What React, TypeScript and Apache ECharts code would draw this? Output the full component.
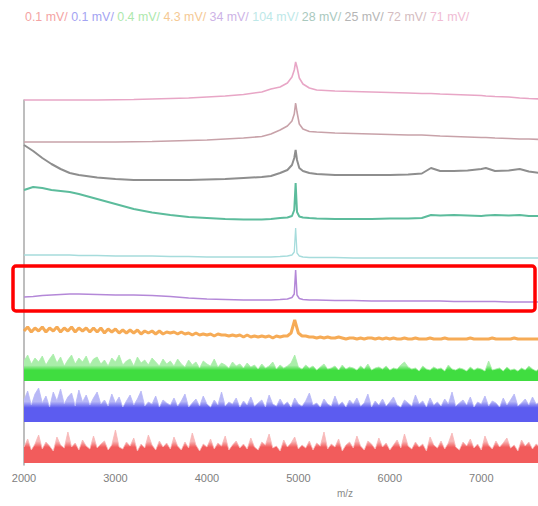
import React, { useEffect, useRef } from "react";
import * as echarts from "echarts";

// Legend labels (bottom trace first)
const LABELS = ["0.1 mV/", "0.1 mV/", "0.4 mV/", "4.3 mV/", "34 mV/", "104 mV/", "28 mV/", "25 mV/", "72 mV/", "71 mV/"];
const X_MIN = 2000;
const X_MAX = 7620;
const X_STEP = 1000;

// m/z sampling of the smooth traces
const MZ_SMOOTH = [2000, 2100, 2200, 2300, 2400, 2500, 2600, 2800, 3000, 3200, 3400, 3600, 3800, 4000, 4200, 4400, 4600, 4700, 4800, 4880, 4930, 4955, 4970, 4985, 5010, 5050, 5120, 5200, 5400, 5600, 5800, 6000, 6200, 6350, 6450, 6550, 6700, 6850, 7000, 7050, 7150, 7300, 7420, 7520, 7650];

const PINK_71 = [0, 0, 0, 0, 0, 0, 0, 0, 0.3, 0.5, 1, 1.5, 2, 3, 4, 5.5, 8, 11, 13, 17, 23, 30, 38, 33, 22, 16, 12, 10, 9, 8.5, 8, 7.5, 7, 6.5, 6.5, 6, 5.5, 5, 4.5, 4, 3.5, 3, 2, 1.5, 1];
const ROSY_72 = [0, 0, 0, 0, 0, 0, 0, 0, 0, 0.3, 0.5, 1, 1.5, 2, 3, 4, 5.5, 8, 12, 16, 21, 28, 39, 30, 18, 13, 10.5, 10, 9, 8.5, 8, 7.5, 7, 7, 6.5, 6, 5.5, 5, 4.5, 4.5, 4, 3.5, 3, 3, 2.5];
const GRAY_25 = [35, 29, 22, 16, 11, 7, 5, 2.5, 1, 0, 0, 0, 0, 0.5, 1, 2, 3, 4, 7, 10, 15, 22, 30, 20, 12, 9, 7, 6, 5, 5, 5, 5, 5.5, 6.5, 12, 9, 9, 9.5, 11, 12, 9, 9.5, 11, 8.5, 7];
const TEAL_28 = [30, 33, 32, 30, 29, 28, 26, 21, 16, 11, 7.5, 5, 3, 2, 1, 0.5, 0.5, 1, 2, 2.5, 4, 10, 37, 8, 3.5, 2.5, 2, 1.5, 1, 1, 1, 1.5, 1.5, 2, 5, 4.5, 5, 4.5, 4, 4.5, 5, 4.5, 5, 4, 4];
const CYAN_104 = [3, 3, 3, 3, 3, 3, 2.5, 2.5, 2, 2, 2, 1.5, 1.5, 1, 1, 1, 1, 1, 1.5, 2, 3, 6, 30, 5, 2, 1, 0.5, 0.5, 0.5, 0, 0, 0, 0, 0, 0, 0, 0, 0, 0, 0, 0, 0, 0, 0, 0];
const PURPLE_34 = [5, 5.5, 6.5, 7, 7.5, 8, 8, 7.5, 7, 7, 6.5, 5.5, 4, 3, 2.5, 2, 2, 2, 2.5, 3, 4.5, 8, 32, 7, 3.5, 2.5, 2, 2, 1.5, 1.5, 1, 1, 1, 1, 1, 1, 0.5, 0.5, 0.5, 0.5, 0.5, 0, 0, 0, 0];

// noisy traces: sampled every 40 m/z from 2000
const NOISE_START = 2000;
const NOISE_STEP = 40;
const ORANGE_43 = [
  11, 15, 10, 14, 11, 15, 10, 14, 11, 15, 10, 14, 11, 15, 10, 14, 11, 14, 10, 14,
  10, 14, 9, 13, 10, 13, 9, 12, 9, 12, 9, 12, 8, 11, 9, 11, 8, 11, 8, 10,
  9, 10, 8, 10, 8, 9, 7, 9, 7, 8, 7, 8, 6, 8, 7, 7, 6, 7, 6, 7,
  5, 7, 5, 6, 5, 6, 5, 6, 4, 6, 5, 6, 6, 9, 22, 9, 6, 6, 5, 5,
  4, 5, 4, 5, 4, 4, 5, 4, 3, 4, 4, 3, 4, 3, 4, 4, 3, 4, 3, 4,
  3, 4, 3, 3, 4, 3, 3, 4, 3, 3, 3, 4, 3, 3, 3, 4, 3, 3, 3, 3,
  3, 3, 4, 3, 3, 3, 3, 3, 4, 3, 3, 3, 3, 3, 4, 3, 3, 3, 3, 3, 3, 3,
];
const GREEN_04 = [
  20, 26, 17, 23, 19, 25, 16, 22, 27, 18, 24, 15, 21, 26, 17, 23, 19, 25, 16, 22,
  24, 17, 21, 15, 23, 19, 26, 16, 20, 22, 15, 24, 18, 21, 16, 23, 19, 15, 22, 17,
  20, 15, 22, 17, 14, 21, 16, 19, 13, 20, 17, 15, 22, 14, 18, 16, 13, 19, 15, 17,
  13, 18, 14, 16, 12, 17, 13, 15, 19, 12, 16, 13, 15, 18, 26, 14, 12, 16, 13, 15,
  11, 14, 17, 12, 13, 15, 11, 16, 12, 14, 13, 11, 15, 12, 17, 11, 13, 14, 12, 15,
  11, 13, 12, 16, 19, 14, 12, 13, 10, 15, 12, 11, 14, 12, 13, 10, 16, 12, 11, 13,
  12, 10, 14, 11, 13, 12, 10, 20, 11, 12, 13, 10, 14, 11, 12, 10, 13, 11, 15, 12, 10, 13,
];
const BLUE_01 = [
  22, 31, 17, 28, 34, 19, 26, 15, 30, 21, 33, 18, 25, 29, 16, 32, 20, 27, 17, 24,
  30, 18, 22, 16, 28, 19, 25, 15, 21, 27, 17, 23, 31, 16, 20, 18, 26, 15, 22, 19,
  17, 24, 16, 21, 28, 15, 19, 23, 16, 26, 18, 15, 22, 17, 30, 16, 20, 18, 24, 15,
  21, 17, 25, 16, 19, 22, 15, 27, 18, 16, 23, 17, 20, 15, 24, 18, 16, 21, 29, 17,
  19, 15, 23, 18, 16, 26, 17, 20, 15, 22, 18, 24, 16, 19, 28, 15, 21, 17, 23, 16,
  20, 25, 17, 15, 22, 19, 16, 27, 18, 21, 15, 24, 17, 20, 16, 23, 18, 30, 16, 19,
  22, 17, 25, 15, 20, 18, 26, 16, 21, 19, 15, 24, 17, 22, 28, 16, 19, 23, 17, 25, 18, 20,
];
const RED_01 = [
  16, 24, 13, 19, 28, 14, 21, 17, 12, 26, 18, 15, 31, 16, 20, 13, 23, 17, 14, 27,
  15, 19, 22, 13, 18, 33, 16, 14, 21, 17, 25, 12, 19, 15, 28, 18, 13, 22, 16, 20,
  14, 26, 17, 13, 21, 15, 30, 18, 12, 19, 16, 24, 14, 20, 17, 27, 13, 18, 22, 15,
  19, 14, 25, 16, 13, 21, 18, 29, 15, 17, 12, 23, 16, 20, 26, 14, 18, 15, 22, 13,
  20, 17, 31, 14, 19, 16, 24, 12, 18, 21, 15, 27, 17, 13, 22, 19, 14, 25, 16, 20,
  13, 18, 23, 15, 29, 17, 14, 21, 16, 19, 12, 26, 18, 15, 22, 14, 20, 30, 16, 13,
  21, 17, 24, 15, 19, 13, 27, 18, 14, 22, 16, 20, 25, 15, 18, 12, 23, 17, 21, 14, 19, 16,
];

// layout / style (not data)
const OFFSETS = [2, 43, 84, 123, 163, 207, 245, 285, 323, 365];
const COLORS = ["#f25c5c", "#5c5cf0", "#40dd40", "#f5a244", "#b488d8", "#a6dcdc", "#5cbc9c", "#8e8e8e", "#c8a2a9", "#e8a6c6"];
const LIGHT = ["#f8b8b8", "#b8b8f6", "#aaeeaa"];
const SOLID_STOP = [0.52, 0.58, 0.6];
const LEGEND_COLORS = ["#f4a3a3", "#a3a3f2", "#ade8ad", "#f5c994", "#cdb3e6", "#bde8e8", "#a9c9be", "#b5b5b5", "#d4bcc0", "#f0bcd4"];

export default function App() {
  const ref = useRef<HTMLDivElement>(null);
  useEffect(() => {
    if (!ref.current) return;
    const chart = echarts.init(ref.current, undefined, { renderer: "svg" });

    const smoothSets = [
      { i: 4, vals: PURPLE_34, w: 1.5 },
      { i: 5, vals: CYAN_104, w: 1.3 },
      { i: 6, vals: TEAL_28, w: 2 },
      { i: 7, vals: GRAY_25, w: 2 },
      { i: 8, vals: ROSY_72, w: 1.6 },
      { i: 9, vals: PINK_71, w: 1.6 },
    ];
    const noiseSets = [
      { i: 0, vals: RED_01 },
      { i: 1, vals: BLUE_01 },
      { i: 2, vals: GREEN_04 },
    ];

    const series: any[] = [];
    noiseSets.forEach((s) => {
      series.push({
        type: "line",
        name: LABELS[s.i],
        showSymbol: false,
        clip: false,
        data: s.vals.map((v, k) => [NOISE_START + k * NOISE_STEP, OFFSETS[s.i] + v]),
        lineStyle: { color: LIGHT[s.i], width: 0.8 },
        itemStyle: { color: COLORS[s.i] },
        areaStyle: {
          origin: OFFSETS[s.i],
          opacity: 1,
          color: new echarts.graphic.LinearGradient(0, 0, 0, 1, [
            { offset: 0, color: LIGHT[s.i] },
            { offset: SOLID_STOP[s.i] - 0.18, color: LIGHT[s.i] },
            { offset: SOLID_STOP[s.i], color: COLORS[s.i] },
            { offset: 1, color: COLORS[s.i] },
          ]),
        },
      });
    });
    series.push({
      type: "line",
      name: LABELS[3],
      showSymbol: false,
      clip: false,
      data: ORANGE_43.map((v, k) => [NOISE_START + k * NOISE_STEP, OFFSETS[3] + v]),
      lineStyle: { color: COLORS[3], width: 3, opacity: 0.9 },
      itemStyle: { color: COLORS[3] },
    });
    smoothSets.forEach((s) => {
      series.push({
        type: "line",
        name: LABELS[s.i],
        showSymbol: false,
        clip: false,
        data: s.vals.map((v, k) => [MZ_SMOOTH[k], OFFSETS[s.i] + v]),
        lineStyle: { color: COLORS[s.i], width: s.w },
        itemStyle: { color: COLORS[s.i] },
      });
    });

    const rich: any = {};
    LEGEND_COLORS.forEach((c, k) => {
      rich["c" + k] = { color: c, fontSize: 12.4, fontFamily: "Liberation Sans, Arial, sans-serif" };
    });
    const titleText = LABELS.map((l, k) => `{c${k}|${l}}`).join(" ");

    chart.setOption({
      animation: false,
      backgroundColor: "#ffffff",
      textStyle: { fontFamily: "Liberation Sans, Arial, sans-serif" },
      title: {
        left: 20,
        top: 6,
        text: titleText,
        textStyle: { fontSize: 12.4, fontWeight: "normal", rich },
      },
      grid: { left: 24, right: 0, top: 100, bottom: 41 },
      xAxis: {
        type: "value",
        min: X_MIN,
        max: X_MAX,
        interval: X_STEP,
        name: "m/z",
        nameLocation: "middle",
        nameGap: 23,
        nameTextStyle: { color: "#8a8a8a", fontSize: 10, padding: [0, 0, 0, 128] },
        axisLine: { show: false },
        axisTick: { show: false },
        splitLine: { show: false },
        axisLabel: {
          color: "#808080",
          fontSize: 11,
          margin: 7,
          showMinLabel: true,
          showMaxLabel: false,
          formatter: (v: number) => String(v),
        },
      },
      yAxis: {
        type: "value",
        min: 0,
        max: 365,
        axisLine: { show: true, lineStyle: { color: "#a8a8a8", width: 1.5 } },
        axisTick: { show: false },
        axisLabel: { show: false },
        splitLine: { show: false },
      },
      series,
      graphic: [
        {
          type: "rect",
          z: 100,
          shape: { x: 13, y: 266, width: 522, height: 45, r: 3 },
          style: { fill: "none", stroke: "#ff0000", lineWidth: 3.5 },
        },
      ],
    });
    return () => chart.dispose();
  }, []);
  return <div ref={ref} style={{ position: "absolute", left: 0, top: 0, width: 538, height: 506 }} />;
}
